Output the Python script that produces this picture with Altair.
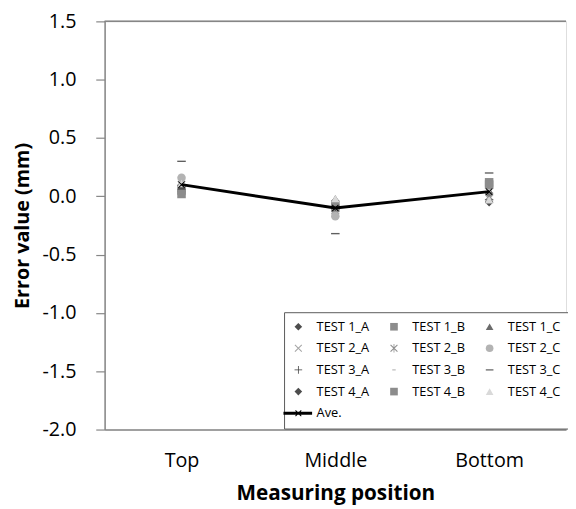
import altair as alt
import pandas as pd

positions = ["Top", "Middle", "Bottom"]
series = ["TEST 1_A", "TEST 1_B", "TEST 1_C",
          "TEST 2_A", "TEST 2_B", "TEST 2_C",
          "TEST 3_A", "TEST 3_B", "TEST 3_C",
          "TEST 4_A", "TEST 4_B", "TEST 4_C"]
top_vals = [0.08, 0.05, 0.12, 0.10, 0.07, 0.16, 0.09, 0.04, 0.30, 0.06, 0.02, 0.11]
middle_vals = [-0.08, -0.10, -0.02, -0.07, -0.12, -0.17, -0.09, -0.09, -0.32, -0.04, -0.08, -0.02]
bottom_vals = [0.02, 0.12, 0.05, -0.02, 0.00, 0.08, -0.03, 0.04, 0.20, -0.05, 0.10, -0.03]
ave_vals = [0.10, -0.10, 0.04]
y_ticks = [-2.0, -1.5, -1.0, -0.5, 0.0, 0.5, 1.0, 1.5]

colors = ["#4d4d4d", "#8c8c8c", "#6b6b6b",
          "#a6a6a6", "#8f8f8f", "#b3b3b3",
          "#3c3c3c", "#b0b0b0", "#5f5f5f",
          "#4d4d4d", "#8c8c8c", "#d9d9d9", "#000000"]
X_PATH = "M-1,-0.8L-0.8,-1L1,0.8L0.8,1Z M0.8,-1L1,-0.8L-0.8,1L-1,0.8Z"
shapes = ["diamond", "square", "triangle-up",
          X_PATH,
          X_PATH + " M-0.1,-1.1H0.1V1.1H-0.1Z",
          "circle",
          "M-1,-0.1H1V0.1H-1Z M-0.1,-1H0.1V1H-0.1Z",
          "M-0.45,-0.14H0.45V0.14H-0.45Z",
          "M-1,-0.16H1V0.16H-1Z",
          "diamond", "square", "triangle-up",
          "M-3.9,-0.38H3.6V0.38H-3.9Z M-0.8,-0.8L-0.6,-0.8L0.8,0.6L0.8,0.8L0.6,0.8L-0.8,-0.6Z M0.6,-0.8L0.8,-0.8L0.8,-0.6L-0.6,0.8L-0.8,0.8L-0.8,0.6Z"]
legend_domain = series + ["Ave."]

rows = []
for i, s in enumerate(series):
    for p, vals in zip(positions, [top_vals, middle_vals, bottom_vals]):
        rows.append({"series": s, "position": p, "value": vals[i]})
df = pd.DataFrame(rows)
ave_df = pd.DataFrame({"position": positions, "value": ave_vals})

FONT = "Open Sans"
AXIS_COLOR = "#868686"

x_enc = alt.X("position:N", sort=positions,
              scale=alt.Scale(domain=positions, padding=0.5),
              axis=alt.Axis(title="Measuring position", labelAngle=0, ticks=False, tickSize=0,
                            labelPadding=21, labelFontSize=20, labelFont=FONT, labelColor="#000000",
                            titleFontSize=21, titleFont=FONT, titleFontWeight="bold", titleColor="#000000",
                            titlePadding=13, domainColor=AXIS_COLOR, domainWidth=1.5, grid=False))
y_scale = alt.Scale(domain=[-2.0, 1.5], nice=False, zero=False)
y_enc = alt.Y("value:Q", scale=y_scale,
              axis=alt.Axis(title="Error value (mm)", values=y_ticks,
                            labelExpr="(datum.value < 0 ? '-' : '') + format(abs(datum.value), '.1f')",
                            tickSize=9, tickColor=AXIS_COLOR, tickWidth=1.2,
                            labelPadding=20, labelFontSize=20, labelFont=FONT, labelColor="#000000",
                            titleFontSize=20, titleFont=FONT, titleFontWeight="bold", titleColor="#000000",
                            titlePadding=10, domainColor=AXIS_COLOR, domainWidth=1.5, grid=False))

top_line = alt.Chart(ave_df).mark_rule(color=AXIS_COLOR, strokeWidth=1.5).encode(
    y=alt.datum(1.5, scale=y_scale)
)

points = alt.Chart(df).mark_point(filled=True, opacity=1, size=75).encode(
    x=x_enc,
    y=y_enc,
    color=alt.Color("series:N", sort=legend_domain,
                    scale=alt.Scale(domain=legend_domain, range=colors),
                    legend=alt.Legend(title=None, orient="none", legendX=182, legendY=295,
                                      direction="horizontal", columns=3, symbolSize=60,
                                      labelFontSize=13, labelFont=FONT,
                                      labelColor="#000000", labelOffset=12, columnPadding=18,
                                      rowPadding=8, padding=8, strokeColor="#595959",
                                      fillColor="#ffffff", symbolStrokeWidth=0)),
    shape=alt.Shape("series:N", sort=legend_domain,
                    scale=alt.Scale(domain=legend_domain, range=shapes)),
)

ave_line = alt.Chart(ave_df).mark_line(color="#000000", strokeWidth=3).encode(
    x=alt.X("position:N", sort=positions),
    y=alt.Y("value:Q"),
)
ave_pts = alt.Chart(ave_df).mark_point(filled=True, opacity=1, size=50, color="#000000",
                                       shape=X_PATH).encode(
    x=alt.X("position:N", sort=positions),
    y=alt.Y("value:Q"),
)

chart = alt.layer(top_line, points, ave_line, ave_pts).properties(
    width=468, height=414,
    autosize=alt.AutoSizeParams(type="none"),
    padding={"left": 98, "top": 10, "right": 2, "bottom": 76},
).configure_view(stroke=None).configure(background="#ffffff")

chart.save("out.html", embed_options={"renderer": "svg", "actions": False})
